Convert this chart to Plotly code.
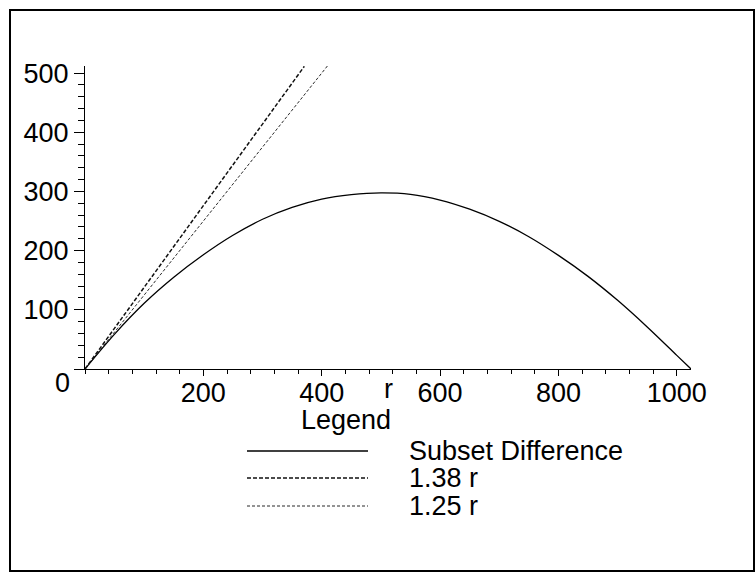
import plotly.graph_objects as go

# Number of revoked users r (out of n = 1024) and the average number of
# subsets needed by the Subset Difference method.
r_values = [0, 50, 100, 150, 200, 250, 300, 350, 400, 450, 500, 550, 600,
            650, 700, 750, 800, 850, 900, 950, 1000, 1024]
sd_subsets = [0, 59, 111, 155, 193, 226, 253, 273, 287, 294.5, 297.5, 295,
              285.5, 270, 249.5, 223.5, 192, 156.5, 116, 71, 23, 0]

# Reference bounds drawn as straight lines c * r
bound_coeffs = [1.38, 1.25]
bound_r_max = [370.6, 409.6]          # where each line leaves the 512 ceiling

x_major = [200, 400, 600, 800, 1000]
y_major = [0, 100, 200, 300, 400, 500]
y_major_text = ["", "100", "200", "300", "400", "500"]

series_names = ["Subset Difference", "1.38 r", "1.25 r"]

W, H = 755, 572
ML, MR, MT, MB = 85, 64, 66, 203
PW, PH = W - ML - MR, H - MT - MB
FONT = "Liberation Sans, Arial, sans-serif"
FS = 27


def px(x):
    return (x - ML) / PW


def py(y):
    return (H - MB - y) / PH


fig = go.Figure()

fig.add_trace(go.Scatter(
    x=r_values, y=sd_subsets, mode="lines", line_shape="spline",
    line=dict(color="black", width=1.3), name=series_names[0]))

bound_styles = [dict(color="#111111", width=1.5, dash="4px,2px"),
                dict(color="#111111", width=0.9, dash="3px,2px")]
for c, rmax, style, name in zip(bound_coeffs, bound_r_max, bound_styles,
                                series_names[1:]):
    fig.add_trace(go.Scatter(x=[0, rmax], y=[0, c * rmax], mode="lines",
                             line=style, name=name))

shapes = []
annotations = []

# outer frame
shapes.append(dict(type="rect", xref="paper", yref="paper",
                   x0=px(10), x1=px(754), y0=py(571), y1=py(10),
                   line=dict(color="black", width=2)))

# legend block
legend_rows_y = [451, 478, 506]
for yy, st in zip(legend_rows_y,
                  [dict(color="black", width=1.3)] + bound_styles):
    shapes.append(dict(type="line", xref="paper", yref="paper",
                       x0=px(247), x1=px(368), y0=py(yy), y1=py(yy),
                       line=st))
for yy, name in zip(legend_rows_y, series_names):
    annotations.append(dict(text=name, xref="paper", yref="paper",
                            x=px(407), y=py(yy), xanchor="left",
                            yanchor="middle", showarrow=False,
                            font=dict(size=FS, family=FONT, color="black")))

annotations.append(dict(text="Legend", xref="paper", yref="paper",
                        x=px(346), y=py(420), xanchor="center",
                        yanchor="middle", showarrow=False,
                        font=dict(size=FS, family=FONT, color="black")))
annotations.append(dict(text="r", xref="x", yref="paper",
                        x=512, y=py(389), xanchor="center",
                        yanchor="middle", showarrow=False,
                        font=dict(size=FS, family=FONT, color="black")))
annotations.append(dict(text="0", xref="paper", yref="paper",
                        x=px(62.5), y=py(383), xanchor="center",
                        yanchor="middle", showarrow=False,
                        font=dict(size=FS, family=FONT, color="black")))

fig.update_layout(
    width=W, height=H,
    margin=dict(l=ML, r=MR, t=MT, b=MB),
    paper_bgcolor="white", plot_bgcolor="white",
    showlegend=False,
    font=dict(family=FONT, size=FS, color="black"),
    shapes=shapes, annotations=annotations,
    xaxis=dict(range=[0, 1024], showgrid=False, zeroline=False,
               showline=True, linecolor="black", linewidth=1,
               ticks="outside", ticklen=6, tickwidth=1, tickcolor="black",
               tickmode="array", tickvals=x_major, ticklabelstandoff=-6,
               minor=dict(tickmode="linear", tick0=0, dtick=40,
                          ticks="outside", ticklen=4, tickcolor="black"),
               tickfont=dict(size=FS, family=FONT, color="black")),
    yaxis=dict(range=[0, 512], showgrid=False, zeroline=False,
               showline=True, linecolor="black", linewidth=1,
               ticks="outside", ticklen=10, tickwidth=1, tickcolor="black",
               tickmode="array", tickvals=y_major, ticktext=y_major_text,
               minor=dict(tickmode="linear", tick0=0, dtick=20,
                          ticks="outside", ticklen=6, tickcolor="black"),
               tickfont=dict(size=FS, family=FONT, color="black")),
)

fig.write_html("out.html")
